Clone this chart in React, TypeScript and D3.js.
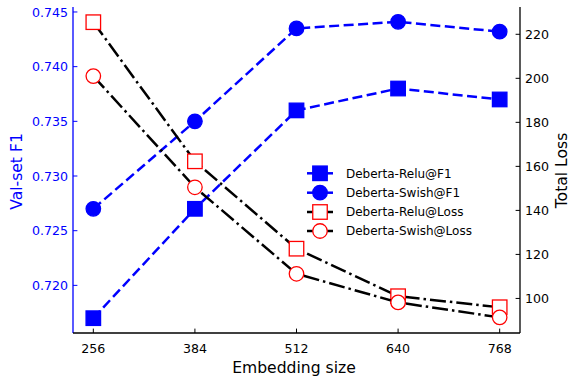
import React from "react";
import * as d3 from "d3";

const embeddingSizes = [256, 384, 512, 640, 768];
const reluF1 = [0.717, 0.727, 0.736, 0.738, 0.737];
const swishF1 = [0.727, 0.735, 0.7435, 0.7441, 0.7432];
const reluLoss = [225.5, 162.3, 122.6, 101.0, 96.0];
const swishLoss = [201.0, 150.5, 111.2, 98.2, 91.4];
const f1Ticks = [0.72, 0.725, 0.73, 0.735, 0.74, 0.745];
const lossTicks = [100, 120, 140, 160, 180, 200, 220];
const legendLabels = ["Deberta-Relu@F1", "Deberta-Swish@F1", "Deberta-Relu@Loss", "Deberta-Swish@Loss"];

const W = 575, H = 381;
const L = 73, R = 520, T = 7, B = 333;
const FONT = "DejaVu Sans, sans-serif";
const BLUE = "#0000ff";
const RED = "#ff0000";

export default function App() {
  const x = d3.scaleLinear().domain([230.4, 793.6]).range([L, R]);
  const yF = d3.scaleLinear().domain([0.715645, 0.745455]).range([B, T]);
  const yL = d3.scaleLinear().domain([84.3, 232.4]).range([B, T]);

  const lineF = d3.line<number>().x((_, i) => x(embeddingSizes[i])).y((d) => yF(d));
  const lineL = d3.line<number>().x((_, i) => x(embeddingSizes[i])).y((d) => yL(d));

  const dash = "10,4.5";
  const dashdot = "16,4,2.5,4";
  const lw = 2.5;
  const ms = 14.5;

  const square = (cx: number, cy: number, fill: string, stroke: string, key: string, sw = 1.3) => (
    <rect key={key} x={cx - ms / 2} y={cy - ms / 2} width={ms} height={ms} fill={fill} stroke={stroke} strokeWidth={sw} />
  );
  const circle = (cx: number, cy: number, fill: string, stroke: string, key: string, sw = 1.3) => (
    <circle key={key} cx={cx} cy={cy} r={ms / 2} fill={fill} stroke={stroke} strokeWidth={sw} />
  );

  const legendY = [173.3, 192.7, 212, 231];
  const lx0 = 307, lx1 = 333, lmx = 320, ltx = 346;

  return (
    <svg width={W} height={H} style={{ position: "absolute", left: 0, top: 0, background: "white" }}>
      <rect x={0} y={0} width={W} height={H} fill="white" />
      {/* F1 lines */}
      <path d={lineF(reluF1) || ""} fill="none" stroke={BLUE} strokeWidth={lw} strokeDasharray={dash} />
      {reluF1.map((v, i) => square(x(embeddingSizes[i]), yF(v), BLUE, BLUE, "rf" + i))}
      <path d={lineF(swishF1) || ""} fill="none" stroke={BLUE} strokeWidth={lw} strokeDasharray={dash} />
      {swishF1.map((v, i) => circle(x(embeddingSizes[i]), yF(v), BLUE, BLUE, "sf" + i))}
      {/* Loss lines */}
      <path d={lineL(reluLoss) || ""} fill="none" stroke="black" strokeWidth={lw} strokeDasharray={dashdot} />
      {reluLoss.map((v, i) => square(x(embeddingSizes[i]), yL(v), "white", RED, "rl" + i))}
      <path d={lineL(swishLoss) || ""} fill="none" stroke="black" strokeWidth={lw} strokeDasharray={dashdot} />
      {swishLoss.map((v, i) => circle(x(embeddingSizes[i]), yL(v), "white", RED, "sl" + i))}

      {/* spines */}
      <line x1={L} x2={L} y1={T} y2={B} stroke={BLUE} strokeWidth={1.3} />
      <line x1={R} x2={R} y1={T} y2={B} stroke="black" strokeWidth={1.3} />
      <line x1={L} x2={R} y1={B} y2={B} stroke="black" strokeWidth={1.3} />

      {/* x ticks */}
      {embeddingSizes.map((v) => (
        <g key={"xt" + v}>
          <line x1={x(v)} x2={x(v)} y1={B} y2={B - 4.4} stroke="black" strokeWidth={1} />
          <text x={x(v)} y={353} textAnchor="middle" fontFamily={FONT} fontSize={12.6} fill="black">{v}</text>
        </g>
      ))}
      {/* left ticks */}
      {f1Ticks.map((v) => (
        <g key={"yf" + v}>
          <line x1={L} x2={L + 4.4} y1={yF(v)} y2={yF(v)} stroke={BLUE} strokeWidth={1} />
          <text x={68} y={yF(v)} dy="0.36em" textAnchor="end" fontFamily={FONT} fontSize={12.6} fill={BLUE}>{v.toFixed(3)}</text>
        </g>
      ))}
      {/* right ticks */}
      {lossTicks.map((v) => (
        <g key={"yl" + v}>
          <line x1={R} x2={R - 4.4} y1={yL(v)} y2={yL(v)} stroke="black" strokeWidth={1} />
          <text x={525} y={yL(v)} dy="0.36em" textAnchor="start" fontFamily={FONT} fontSize={12.6} fill="black">{v}</text>
        </g>
      ))}

      {/* axis labels */}
      <text x={294} y={373} textAnchor="middle" fontFamily={FONT} fontSize={15.6} fill="black">Embedding size</text>
      <text transform="translate(22,171.5) rotate(-90)" textAnchor="middle" fontFamily={FONT} fontSize={15.6} fill={BLUE}>Val-set F1</text>
      <text transform="translate(567,170.5) rotate(-90)" textAnchor="middle" fontFamily={FONT} fontSize={15.6} fill="black">Total Loss</text>

      {/* legend */}
      <g>
        <line x1={lx0} x2={lx1} y1={legendY[0]} y2={legendY[0]} stroke={BLUE} strokeWidth={lw} />
        {square(lmx, legendY[0], BLUE, BLUE, "lg0")}
        <line x1={lx0} x2={lx1} y1={legendY[1]} y2={legendY[1]} stroke={BLUE} strokeWidth={lw} />
        {circle(lmx, legendY[1], BLUE, BLUE, "lg1")}
        <line x1={lx0} x2={lx1} y1={legendY[2]} y2={legendY[2]} stroke="black" strokeWidth={lw} />
        {square(lmx, legendY[2], "white", RED, "lg2")}
        <line x1={lx0} x2={lx1} y1={legendY[3]} y2={legendY[3]} stroke="black" strokeWidth={lw} />
        {circle(lmx, legendY[3], "white", RED, "lg3")}
        {legendLabels.map((t, i) => (
          <text key={"lt" + i} x={ltx} y={legendY[i]} dy="0.36em" fontFamily={FONT} fontSize={12} fill="black">{t}</text>
        ))}
      </g>
    </svg>
  );
}
